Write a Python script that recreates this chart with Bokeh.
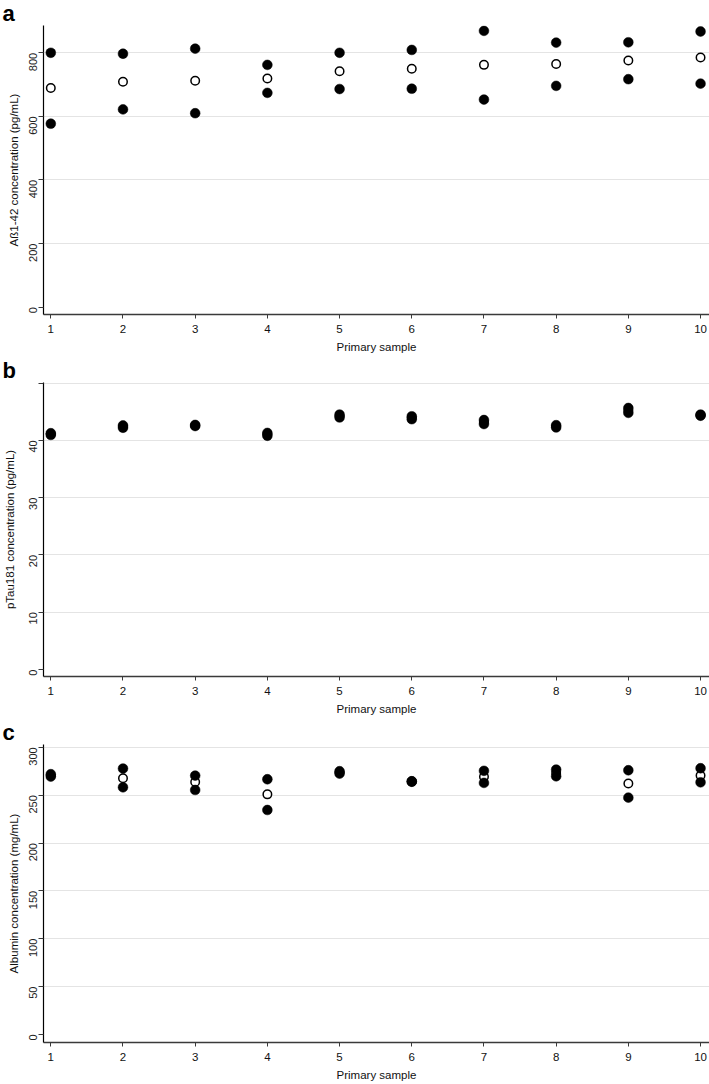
import math
from bokeh.plotting import figure
from bokeh.layouts import column
from bokeh.models import FixedTicker, Grid, Range1d, Title
from bokeh.embed import file_html
from bokeh.resources import INLINE

# ---------------- data ----------------
samples = [1, 2, 3, 4, 5, 6, 7, 8, 9, 10]

abeta_high = [800, 797, 813, 762, 800, 809, 869, 832, 833, 867]
abeta_mean = [689, 709, 712, 719, 742, 750, 762, 765, 776, 785]
abeta_low = [577, 622, 610, 674, 686, 687, 653, 696, 717, 703]

ptau_high = [41.25, 42.6, 42.7, 41.3, 44.5, 44.2, 43.55, 42.65, 45.65, 44.5]
ptau_mean = [41.1, 42.4, 42.6, 41.05, 44.25, 43.95, 43.2, 42.45, 45.2, 44.4]
ptau_low = [40.95, 42.2, 42.5, 40.8, 44.0, 43.7, 42.85, 42.25, 44.8, 44.3]

alb_high = [271.9, 277.8, 270.4, 266.6, 275.0, 264.5, 275.4, 276.7, 276.0, 278.1]
alb_mean = [270.6, 267.6, 263.8, 250.8, 273.7, 264.2, 269.1, 273.2, 262.1, 270.4]
alb_low = [269.4, 258.2, 255.4, 234.5, 272.5, 264.0, 262.8, 269.7, 247.4, 263.4]

abeta_ticks = [0, 200, 400, 600, 800]
ptau_ticks = [0, 10, 20, 30, 40, 50]
alb_ticks = [0, 50, 100, 150, 200, 250, 300]

x_title = "Primary sample"
y_titles = ["Aß1-42 concentration (pg/mL)",
            "pTau181 concentration (pg/mL)",
            "Albumin concentration (mg/mL)"]
panel_letters = ["a", "b", "c"]

W = 709
SANS = "Liberation Sans"


def make_panel(high, mean, low, yticks, grid_ticks, yrange, ytitle, letter,
               height, bbottom, overrides=None, styles=None):
    kw = {}
    if styles:
        kw["styles"] = styles
    p = figure(width=W, height=height, output_backend="svg", toolbar_location=None,
               x_range=Range1d(0.899, 10.124), y_range=Range1d(*yrange),
               min_border_left=42, min_border_right=0,
               min_border_top=0, min_border_bottom=bbottom, **kw)
    p.outline_line_color = None
    p.xgrid.visible = False
    p.ygrid.visible = False
    p.background_fill_color = "white"
    p.border_fill_color = "white"

    g = Grid(dimension=1, ticker=FixedTicker(ticks=grid_ticks),
             grid_line_color="#e4e4e4", grid_line_width=1.2)
    p.add_layout(g)

    xa = p.xaxis[0]
    xa.ticker = FixedTicker(ticks=samples)
    xa.minor_tick_line_color = None
    xa.axis_line_color = "#3a3a3a"
    xa.axis_line_width = 1.5
    xa.major_tick_line_color = "#3a3a3a"
    xa.major_tick_line_width = 1
    xa.major_tick_out = 4
    xa.major_tick_in = 0
    xa.major_label_text_font = SANS
    xa.major_label_text_font_size = "11.5px"
    xa.major_label_text_color = "#111111"
    xa.major_label_standoff = 6
    xa.axis_label = x_title
    xa.axis_label_text_font = SANS
    xa.axis_label_text_font_size = "11.5px"
    xa.axis_label_text_font_style = "normal"
    xa.axis_label_text_color = "#111111"
    xa.axis_label_standoff = 5

    ya = p.yaxis[0]
    ya.ticker = FixedTicker(ticks=yticks)
    ya.minor_tick_line_color = None
    ya.axis_line_color = "black"
    ya.axis_line_width = 1.2
    ya.major_tick_line_color = "#3a3a3a"
    ya.major_tick_out = 5
    ya.major_tick_in = 0
    ya.major_label_orientation = math.pi / 2
    ya.major_label_text_font = SANS
    ya.major_label_text_font_size = "11px"
    ya.major_label_text_color = "#222222"
    ya.major_label_standoff = 5
    if overrides:
        ya.major_label_overrides = overrides
    ya.axis_label = ytitle
    ya.axis_label_text_font = SANS
    ya.axis_label_text_font_size = "11.5px"
    ya.axis_label_text_font_style = "normal"
    ya.axis_label_text_color = "#111111"
    ya.axis_label_standoff = 3

    # open mean circles underneath, filled replicate dots on top
    p.scatter(samples, mean, size=8.5, fill_color="white", line_color="black", line_width=1.5)
    p.scatter(samples, high, size=9.8, fill_color="black", line_color="black", line_width=0.5)
    p.scatter(samples, low, size=9.8, fill_color="black", line_color="black", line_width=0.5)

    p.add_layout(Title(text=letter, align="left", offset=-41, standoff=0,
                       text_font=SANS, text_font_size="22px", text_font_style="bold",
                       text_color="black"), "above")
    return p


pa = make_panel(abeta_high, abeta_mean, abeta_low, abeta_ticks, abeta_ticks[1:],
                (-23.0, 885.8), y_titles[0], panel_letters[0], 357, 40,
                styles={"margin-top": "-2px"})
pb = make_panel(ptau_high, ptau_mean, ptau_low, ptau_ticks, ptau_ticks[1:],
                (-1.22, 50.1), y_titles[1], panel_letters[1], 362, 39,
                overrides={50: " ", "50": " "})
pc = make_panel(alb_high, alb_mean, alb_low, alb_ticks, alb_ticks[1:],
                (-8.4, 302.9), y_titles[2], panel_letters[2], 367, 42)

layout = column(pa, pb, pc, spacing=0)
open("out.html", "w").write(file_html(layout, INLINE))
